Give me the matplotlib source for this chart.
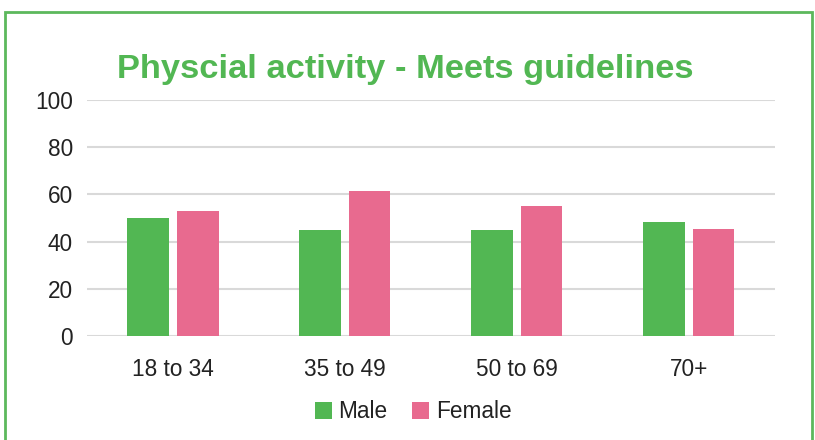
import matplotlib.pyplot as plt
import numpy as np
from matplotlib.patches import Rectangle

plt.rcParams['font.family'] = ['Liberation Sans', 'DejaVu Sans']

categories = ["18 to 34", "35 to 49", "50 to 69", "70+"]
male = [50, 45, 45, 48.5]
female = [53, 61.5, 55, 45.5]

GREEN = "#52b753"
PINK = "#e86a8f"

fig = plt.figure(figsize=(8.15, 4.4), dpi=100)
ax = fig.add_axes([0.1067, 0.236, 0.844, 0.537])

x = np.arange(len(categories))
width = 0.24
ax.bar(x - 0.145, male, width, color=GREEN, label="Male", zorder=3)
ax.bar(x + 0.145, female, width, color=PINK, label="Female", zorder=3)

ax.set_xlim(-0.5, len(categories) - 0.5)
ax.set_ylim(0, 100)
ax.set_yticks(range(0, 101, 20))
ax.set_xticks(x)
ax.set_xticklabels(categories)
ax.grid(axis="y", color="#d9d9d9", linewidth=1.5, zorder=0)
for s in ax.spines.values():
    s.set_visible(False)
ax.tick_params(axis="both", length=0, labelsize=16.3, labelcolor="#222222")
ax.tick_params(axis="y", pad=10)
ax.tick_params(axis="x", pad=16)

fig.text(0.497, 0.843, "Physcial activity - Meets guidelines", ha="center", va="center",
         fontsize=24.8, fontweight="bold", color=GREEN)

fig.legend(loc="center", bbox_to_anchor=(0.507, 0.064), ncol=2, frameon=False,
           fontsize=16.3, handlelength=0.75, handleheight=0.75, handletextpad=0.3,
           columnspacing=1.1, labelcolor="#222222")

fig.patches.append(Rectangle((5 / 815, -0.1), 807 / 815, 1 - 12 / 440 + 0.1,
                             transform=fig.transFigure, fill=False,
                             edgecolor="#5cb85c", linewidth=2))

fig.savefig("out.png", dpi=100)
